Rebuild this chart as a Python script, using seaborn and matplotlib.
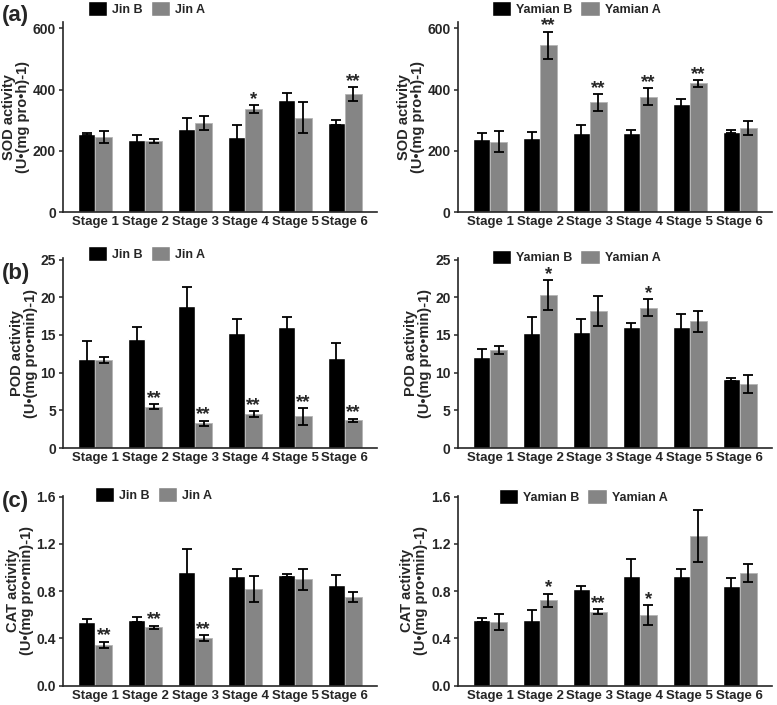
import pandas as pd
import seaborn as sns
import matplotlib.pyplot as plt
from matplotlib.patches import Patch

# dados
stages = ['Stage 1', 'Stage 2', 'Stage 3', 'Stage 4', 'Stage 5', 'Stage 6']

sod_jin_b = [255, 235, 271, 247, 367, 292]
sod_jin_b_err = [3, 18, 38, 38, 23, 8]
sod_jin_a = [246, 232, 292, 337, 309, 386]
sod_jin_a_err = [19, 7, 23, 12, 50, 22]
sod_jin_sig = ['', '', '', '*', '', '**']

sod_yam_b = [240, 242, 258, 257, 352, 263]
sod_yam_b_err = [20, 20, 25, 10, 17, 6]
sod_yam_a = [230, 545, 358, 377, 420, 275]
sod_yam_a_err = [35, 44, 28, 27, 12, 23]
sod_yam_sig = ['', '**', '**', '**', '**', '']

pod_jin_b = [11.75, 14.5, 18.9, 15.3, 16.1, 12.0]
pod_jin_b_err = [2.4, 1.5, 2.5, 1.8, 1.3, 1.9]
pod_jin_a = [11.7, 5.5, 3.3, 4.5, 4.2, 3.7]
pod_jin_a_err = [0.4, 0.3, 0.35, 0.4, 1.1, 0.2]
pod_jin_sig = ['', '**', '**', '**', '**', '**']

pod_yam_b = [12.1, 15.3, 15.35, 16.1, 16.05, 9.1]
pod_yam_b_err = [1.0, 2.1, 1.8, 0.5, 1.7, 0.15]
pod_yam_a = [13.0, 20.3, 18.2, 18.6, 16.8, 8.5]
pod_yam_a_err = [0.5, 2.0, 2.0, 1.1, 1.4, 1.15]
pod_yam_sig = ['', '*', '', '*', '', '']

cat_jin_b = [0.54, 0.56, 0.964, 0.927, 0.936, 0.85]
cat_jin_b_err = [0.025, 0.02, 0.19, 0.06, 0.012, 0.09]
cat_jin_a = [0.347, 0.493, 0.403, 0.815, 0.90, 0.75]
cat_jin_a_err = [0.025, 0.015, 0.022, 0.11, 0.09, 0.04]
cat_jin_sig = ['**', '**', '**', '', '', '']

cat_yam_b = [0.555, 0.552, 0.82, 0.927, 0.927, 0.846]
cat_yam_b_err = [0.02, 0.085, 0.025, 0.145, 0.06, 0.065]
cat_yam_a = [0.538, 0.725, 0.625, 0.6, 1.266, 0.955]
cat_yam_a_err = [0.065, 0.055, 0.02, 0.085, 0.22, 0.075]
cat_yam_sig = ['', '*', '**', '*', '', '']

sns.set_style('ticks')
plt.rcParams['font.family'] = ['Liberation Sans', 'DejaVu Sans']
plt.rcParams['font.weight'] = 'bold'
plt.rcParams['axes.labelweight'] = 'bold'

preto = '#000000'
cinza = '#858585'

fig = plt.figure(figsize=(7.77, 7.05), dpi=100)

x_esq, x_dir, larg = 0.081, 0.589, 0.404
linhas = [0.699, 0.3645, 0.0275]
alt = 0.2695

paineis = [
    # (linha, coluna, nomes, b, b_err, a, a_err, sig, ylabel, yticks, ymax, fmt)
    (0, 0, ('Jin B', 'Jin A'), sod_jin_b, sod_jin_b_err, sod_jin_a, sod_jin_a_err, sod_jin_sig,
     'SOD activity\n(U•(mg pro•h)-1)', [0, 200, 400, 600], 620, '{:.0f}'),
    (0, 1, ('Yamian B', 'Yamian A'), sod_yam_b, sod_yam_b_err, sod_yam_a, sod_yam_a_err, sod_yam_sig,
     'SOD activity\n(U•(mg pro•h)-1)', [0, 200, 400, 600], 620, '{:.0f}'),
    (1, 0, ('Jin B', 'Jin A'), pod_jin_b, pod_jin_b_err, pod_jin_a, pod_jin_a_err, pod_jin_sig,
     'POD activity\n(U•(mg pro•min)-1)', [0, 5, 10, 15, 20, 25], 25.2, '{:.0f}'),
    (1, 1, ('Yamian B', 'Yamian A'), pod_yam_b, pod_yam_b_err, pod_yam_a, pod_yam_a_err, pod_yam_sig,
     'POD activity\n(U•(mg pro•min)-1)', [0, 5, 10, 15, 20, 25], 25.2, '{:.0f}'),
    (2, 0, ('Jin B', 'Jin A'), cat_jin_b, cat_jin_b_err, cat_jin_a, cat_jin_a_err, cat_jin_sig,
     'CAT activity\n(U•(mg pro•min)-1)', [0, 0.4, 0.8, 1.2, 1.6], 1.61, '{:.1f}'),
    (2, 1, ('Yamian B', 'Yamian A'), cat_yam_b, cat_yam_b_err, cat_yam_a, cat_yam_a_err, cat_yam_sig,
     'CAT activity\n(U•(mg pro•min)-1)', [0, 0.4, 0.8, 1.2, 1.6], 1.61, '{:.1f}'),
]

# posicao das legendas (fig coords) por painel
pos_leg = {
    (0, 0): (88 / 777, 1 - 8.5 / 705), (0, 1): (492 / 777, 1 - 8.5 / 705),
    (1, 0): (88 / 777, 1 - 253.5 / 705), (1, 1): (492 / 777, 1 - 257 / 705),
    (2, 0): (95 / 777, 1 - 494.5 / 705), (2, 1): (499 / 777, 1 - 496.5 / 705),
}

for lin, col, nomes, b, b_err, a, a_err, sig, ylab, yt, ymax, fmt in paineis:
    ax = fig.add_axes([x_esq if col == 0 else x_dir, linhas[lin], larg, alt])
    df = pd.DataFrame({
        'stage': stages * 2,
        'valor': b + a,
        'grupo': [nomes[0]] * 6 + [nomes[1]] * 6,
    })
    sns.barplot(data=df, x='stage', y='valor', hue='grupo', palette=[preto, cinza],
                width=0.68, errorbar=None, legend=False, ax=ax, saturation=1)
    for p in ax.containers[1]:
        p.set_edgecolor('#b5b5b5')
        p.set_linewidth(0.6)

    for cont, vals, errs in [(ax.containers[0], b, b_err), (ax.containers[1], a, a_err)]:
        xs = [p.get_x() + p.get_width() / 2 for p in cont]
        ax.errorbar(xs, vals, yerr=errs, fmt='none', ecolor='black', elinewidth=1.3,
                    capsize=3.8, capthick=1.3)

    xs_a = [p.get_x() + p.get_width() / 2 for p in ax.containers[1]]
    for xa, v, e, s in zip(xs_a, a, a_err, sig):
        if s:
            ax.text(xa, v + e - ymax * 0.015, s, ha='center', va='bottom',
                    fontsize=13.5, fontweight='bold')

    ax.set_xlim(-0.65, 5.64)
    ax.set_ylim(0, ymax)
    ax.set_yticks(yt)
    ax.set_yticklabels([fmt.format(t) for t in yt])
    ax.set_xlabel('')
    ax.set_ylabel(ylab, fontsize=10.5, labelpad=2, linespacing=1.0)
    ax.tick_params(axis='x', length=0, labelsize=9.5, pad=3)
    ax.tick_params(axis='y', length=3, width=1.1, labelsize=10, pad=2)
    for t in ax.get_xticklabels() + ax.get_yticklabels():
        t.set_fontweight('bold')
    sns.despine(ax=ax)
    for sp in ['left', 'bottom']:
        ax.spines[sp].set_linewidth(1.2)

    handles = [Patch(facecolor=preto), Patch(facecolor=cinza)]
    fig.legend(handles, list(nomes), loc='center left', bbox_to_anchor=pos_leg[(lin, col)],
               ncol=2, frameon=False, handlelength=1.55, handleheight=1.4,
               handletextpad=0.4, columnspacing=0.6, borderpad=0, borderaxespad=0,
               prop={'weight': 'bold', 'size': 9})

fig.text(0.003, 1 - 16 / 705, '(a)', fontsize=16, fontweight='bold', va='center')
fig.text(0.003, 1 - 274 / 705, '(b)', fontsize=16, fontweight='bold', va='center')
fig.text(0.003, 1 - 502 / 705, '(c)', fontsize=16, fontweight='bold', va='center')

plt.savefig('out.png', dpi=100)
